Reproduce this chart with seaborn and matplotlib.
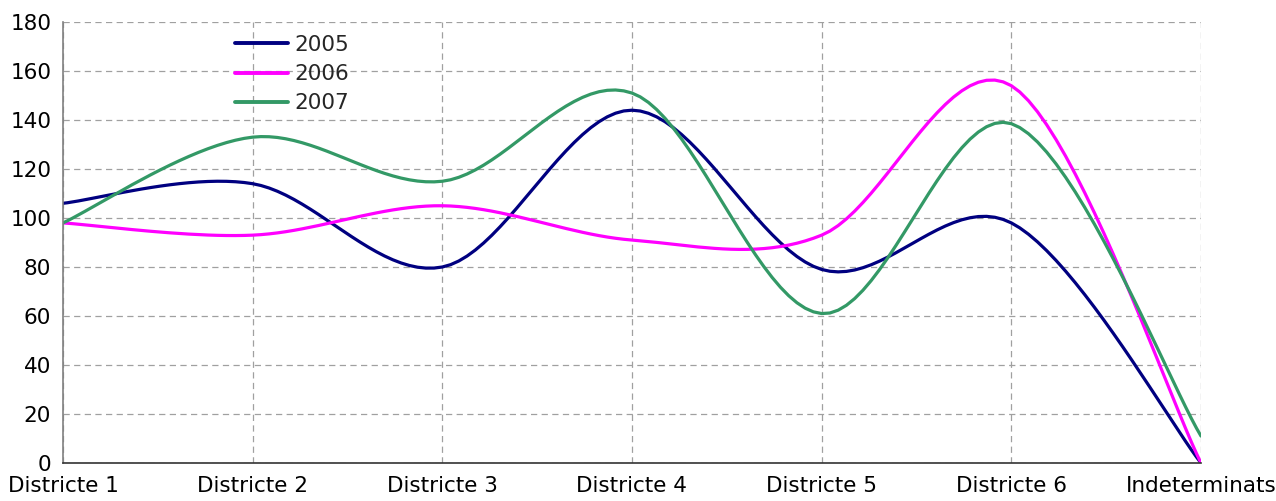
import numpy as np
import pandas as pd
import matplotlib
matplotlib.use("Agg")
import matplotlib.pyplot as plt
import seaborn as sns

categories = ["Districte 1", "Districte 2", "Districte 3", "Districte 4",
              "Districte 5", "Districte 6", "Indeterminats"]
v2005 = [106, 114, 80, 144, 79, 98, 0]
v2006 = [98, 93, 105, 91, 93, 154, 0]
v2007 = [98, 133, 115, 151, 61, 138.5, 11]
series = {"2005": v2005, "2006": v2006, "2007": v2007}
colors = {"2005": "#000080", "2006": "#FF00FF", "2007": "#339966"}
yticks = list(range(0, 181, 20))


def smooth(xs, ys, n=24):
    pts = np.column_stack([xs, ys]).astype(float)
    out = []
    m = len(pts)
    t = np.linspace(0, 1, n)[:, None]
    for i in range(m - 1):
        p0 = pts[i - 1] if i > 0 else pts[i]
        p1 = pts[i]
        p2 = pts[i + 1]
        p3 = pts[i + 2] if i + 2 < m else pts[i + 1]
        c1 = p1 + (p2 - p0) / 6.0
        c2 = p2 - (p3 - p1) / 6.0
        seg = ((1 - t) ** 3) * p1 + 3 * ((1 - t) ** 2) * t * c1 + 3 * (1 - t) * t ** 2 * c2 + t ** 3 * p2
        if i > 0:
            seg = seg[1:]
        out.append(seg)
    return np.vstack(out)


rows = []
xs = np.arange(len(categories))
for name, vals in series.items():
    s = smooth(xs, vals)
    for k, (a, b) in enumerate(s):
        rows.append({"x": a, "y": b, "year": name, "order": k})
df = pd.DataFrame(rows)

sns.set_style("white")
plt.rcParams["font.family"] = ["DejaVu Sans"]

fig = plt.figure(figsize=(12.76, 5.01), dpi=100)
ax = fig.add_axes([63 / 1276, 38 / 501, (1201 - 63) / 1276, (463 - 22) / 501])

sns.lineplot(data=df, x="x", y="y", hue="year", palette=colors, sort=False,
             estimator=None, units="year", linewidth=2.3, ax=ax, legend=True)

ax.set_xlim(0, len(categories) - 1)
ax.set_ylim(0, 180)
ax.set_xticks(xs)
ax.set_xticklabels(categories)
ax.set_yticks(yticks)
ax.set_xlabel("")
ax.set_ylabel("")
ax.tick_params(axis="both", labelsize=15.5, colors="black", direction="out",
               length=5, width=1)
ax.tick_params(axis="x", pad=4)
ax.grid(True, color="#a0a0a0", linestyle=(0, (5, 3.5)), linewidth=0.9)
ax.set_axisbelow(True)
for sp in ["top", "right"]:
    ax.spines[sp].set_visible(False)
ax.spines["left"].set_color("#808080")
ax.spines["bottom"].set_color("#333333")
ax.spines["left"].set_linewidth(1.2)
ax.spines["bottom"].set_linewidth(1.2)

handles, labels = ax.get_legend_handles_labels()
for h in handles:
    h.set_linewidth(2.8)
ax.legend(handles, labels, loc="upper left", bbox_to_anchor=(235 / 1276, 1 - 35 / 501),
          bbox_transform=fig.transFigure, frameon=False, fontsize=15.5,
          handlelength=2.45, handletextpad=0.3, labelspacing=0.42, borderpad=0,
          borderaxespad=0)

fig.savefig("out.png", dpi=100)
